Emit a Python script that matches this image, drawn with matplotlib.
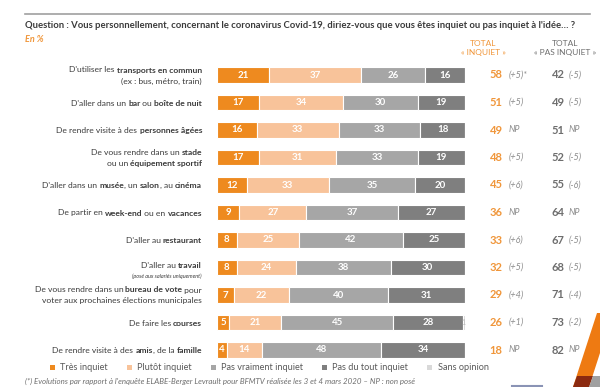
import matplotlib.pyplot as plt
import matplotlib.transforms as mtransforms
from matplotlib.patches import Patch, Polygon

plt.rcParams['font.family'] = ['Lato', 'DejaVu Sans']

# data
series = ['Très inquiet', 'Plutôt inquiet', 'Pas vraiment inquiet', 'Pas du tout inquiet', 'Sans opinion']
tres = [21, 17, 16, 17, 12, 9, 8, 8, 7, 5, 4]
plutot = [37, 34, 33, 31, 33, 27, 25, 24, 22, 21, 14]
pas_vraiment = [26, 30, 33, 33, 35, 37, 42, 38, 40, 45, 48]
pas_du_tout = [16, 19, 18, 19, 20, 27, 25, 30, 31, 28, 34]
sans_opinion = [0, 0, 0, 0, 0, 0, 0, 0, 0, 1, 0]
total_inquiet = [58, 51, 49, 48, 45, 36, 33, 32, 29, 26, 18]
evol_inquiet = ['(+5)*', '(+5)', 'NP', '(+5)', '(+6)', 'NP', '(+6)', '(+5)', '(+4)', '(+1)', 'NP']
total_pas = [42, 49, 51, 52, 55, 64, 67, 68, 71, 73, 82]
evol_pas = ['(-5)', '(-5)', 'NP', '(-5)', '(-6)', 'NP', '(-5)', '(-5)', '(-4)', '(-2)', 'NP']

# category labels: lines of (text, style) segments, style 0 normal, 1 bold, 2 small italic
labels = [
    [[("D'utiliser les ", 0), ("transports en commun", 1)], [("(ex : bus, métro, train)", 0)]],
    [[("D'aller dans un ", 0), ("bar", 1), (" ou ", 0), ("boîte de nuit", 1)]],
    [[("De rendre visite à des ", 0), ("personnes âgées", 1)]],
    [[("De vous rendre dans un ", 0), ("stade", 1)], [("ou un ", 0), ("équipement sportif", 1)]],
    [[("D'aller dans un ", 0), ("musée", 1), (", un ", 0), ("salon", 1), (", au ", 0), ("cinéma", 1)]],
    [[("De partir en ", 0), ("week-end", 1), (" ou en ", 0), ("vacances", 1)]],
    [[("D'aller au ", 0), ("restaurant", 1)]],
    [[("D'aller au ", 0), ("travail", 1)], [("(posé aux salariés uniquement)", 2)]],
    [[("De vous rendre dans un ", 0), ("bureau de vote", 1), (" pour", 0)],
     [("voter aux prochaines élections municipales", 0)]],
    [[("De faire les ", 0), ("courses", 1)]],
    [[("De rendre visite à des ", 0), ("amis", 1), (", de la ", 0), ("famille", 1)]],
]

colors = ['#EE8A1F', '#F8C39A', '#A6A6A6', '#7F7F7F', '#D9D9D9']
orange_txt = '#F0963A'
dark = '#3B3B3B'

W, H = 600, 387
fig = plt.figure(figsize=(6, 3.87), dpi=100)

# bars axes: x 217..465 px, rows centred 75..350 px
top_px, bot_px = 61.25, 363.75
ax = fig.add_axes([217 / W, (H - bot_px) / H, (465 - 217) / W, (bot_px - top_px) / H])
n = len(tres)
rows = list(range(n))
ax.set_xlim(0, 100)
ax.set_ylim(n - 0.5, -0.5)
ax.axis('off')

left = [0] * n
for vals, col in zip([tres, plutot, pas_vraiment, pas_du_tout, sans_opinion], colors):
    ax.barh(rows, vals, left=left, height=0.57, color=col, edgecolor='white', linewidth=0.8)
    for i, v in enumerate(vals):
        if v >= 3:
            ax.text(left[i] + v / 2, i, str(v), ha='center', va='center', color='white',
                    fontsize=7, fontweight='bold')
        elif v > 0:
            ax.text(left[i] + v / 2, i, str(v), ha='center', va='center', color='#BBBBBB',
                    fontsize=5)
    left = [l + v for l, v in zip(left, vals)]

# columns on the right, in figure x / data y
tr = mtransforms.blended_transform_factory(fig.transFigure, ax.transData)
for i in rows:
    ax.text(496 / W, i, str(total_inquiet[i]), transform=tr, ha='center', va='center',
            color=orange_txt, fontsize=8, fontweight='bold')
    ax.text(509 / W, i, evol_inquiet[i], transform=tr, ha='left', va='center',
            color='#8C8C8C', fontsize=6.5, style='italic')
    ax.text(558 / W, i, str(total_pas[i]), transform=tr, ha='center', va='center',
            color='#6E6E6E', fontsize=8, fontweight='bold')
    ax.text(569 / W, i, evol_pas[i], transform=tr, ha='left', va='center',
            color='#8C8C8C', fontsize=6.5, style='italic')

# category labels with mixed bold, laid out by hand in pixels
renderer = fig.canvas.get_renderer()
ident = mtransforms.IdentityTransform()
styles = {
    0: dict(fontsize=6.1, color=dark),
    1: dict(fontsize=6.1, color=dark, fontweight='bold'),
    2: dict(fontsize=4.0, color=dark, style='italic'),
}


def seg_width(txt, props):
    # bracket with bars so leading/trailing spaces count
    t = fig.text(0, 0, '|' + txt + '|', transform=ident, **props)
    w1 = t.get_window_extent(renderer).width
    t.set_text('||')
    w2 = t.get_window_extent(renderer).width
    t.remove()
    return w1 - w2


right_px = 202
for i, lines in enumerate(labels):
    yc = ax.transData.transform((0, i))[1]
    if len(lines) == 1:
        offsets = [0]
    elif lines[1][0][1] == 2:
        offsets = [3, -8.5]
    else:
        offsets = [5.5, -5.5]
    for line, off in zip(lines, offsets):
        widths = [seg_width(txt, styles[k]) for txt, k in line]
        x = right_px - sum(widths)
        base = yc + off - (3 if line[0][1] != 2 else 2)
        for (txt, k), w in zip(line, widths):
            fig.text(x, base, txt, transform=ident, ha='left', va='baseline', **styles[k])
            x += w

# header
fig.add_artist(plt.Line2D([25 / W, 590 / W], [1 - 14 / H, 1 - 14 / H], color='#A0A0A0', lw=1.2))
fig.text(25 / W, 1 - 26 / H, "Question : Vous personnellement, concernant le coronavirus Covid-19, "
         "diriez-vous que vous êtes inquiet ou pas inquiet à l'idée… ?",
         ha='left', va='center', fontsize=6.8, fontweight='bold', color=dark)
fig.text(25 / W, 1 - 40 / H, "En %", ha='left', va='center', fontsize=6.5,
         fontweight='bold', style='italic', color=orange_txt)
fig.text(483 / W, 1 - 43 / H, "TOTAL", ha='center', va='center', fontsize=6, color=orange_txt)
fig.text(483 / W, 1 - 52 / H, "« INQUIET »", ha='center', va='center', fontsize=6, color=orange_txt)
fig.text(565 / W, 1 - 43 / H, "TOTAL", ha='center', va='center', fontsize=6, color='#6E6E6E')
fig.text(565 / W, 1 - 52 / H, "« PAS INQUIET »", ha='center', va='center', fontsize=6, color='#6E6E6E')

# legend
handles = [Patch(facecolor=c, edgecolor='none') for c in colors]
fig.legend(handles, series, loc='center left', bbox_to_anchor=(50 / W, 1 - 368 / H), ncol=5,
           frameon=False, fontsize=6.6, handlelength=0.5, handleheight=0.5,
           handletextpad=0.6, columnspacing=2.1, labelcolor='#595959', borderaxespad=0, borderpad=0)

fig.text(25 / W, 1 - 381 / H, "(*) Evolutions par rapport à l'enquête ELABE-Berger Levrault pour BFMTV "
         "réalisée les 3 et 4 mars 2020 – NP : non posé",
         ha='left', va='center', fontsize=5.65, style='italic', color='#6E6E6E')

# corner decoration
fig.add_artist(Polygon([[597 / W, 1 - 313 / H], [600 / W, 1 - 313 / H], [600 / W, 1 - 353 / H],
                        [589 / W, 0], [573 / W, 0]], closed=True, transform=fig.transFigure,
                       facecolor='#EE7A12', edgecolor='none'))
fig.add_artist(Polygon([[577 / W, 1 - 376 / H], [593 / W, 1 - 376 / H], [589 / W, 0], [573 / W, 0]],
                       closed=True, transform=fig.transFigure, facecolor='#8B2A10', edgecolor='none'))
fig.add_artist(Polygon([[593 / W, 1 - 376 / H], [600 / W, 1 - 376 / H], [600 / W, 0], [589 / W, 0]],
                       closed=True, transform=fig.transFigure, facecolor='#A0A0A0', edgecolor='none'))
fig.add_artist(plt.Line2D([512 / W, 542 / W], [1 - 385.5 / H, 1 - 385.5 / H], color='#8A93B5', lw=1.5))

fig.savefig('out.png', dpi=100)
